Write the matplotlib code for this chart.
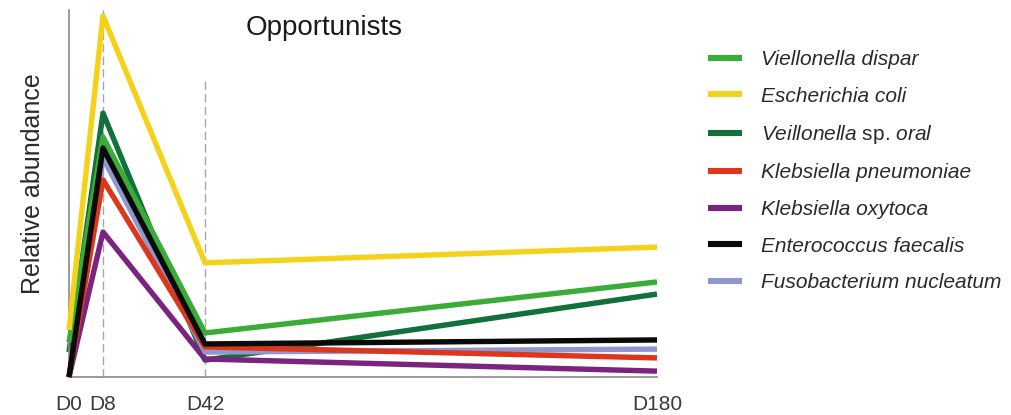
import numpy as np
import matplotlib
matplotlib.use("Agg")
import matplotlib.pyplot as plt
from matplotlib.lines import Line2D

plt.rcParams['font.family'] = ['Liberation Sans', 'DejaVu Sans']
plt.rcParams['mathtext.fontset'] = 'custom'
plt.rcParams['mathtext.it'] = 'Liberation Sans:italic'
plt.rcParams['mathtext.rm'] = 'Liberation Sans'

# Sampling days and their tick labels
days = [0, 8, 42, 180]
day_labels = ["D0", "D8", "D42", "D180"]

# Relative abundance (percent of axis height) per species
species = [
    "Viellonella dispar",
    "Escherichia coli",
    "Veillonella sp. oral",
    "Klebsiella pneumoniae",
    "Klebsiella oxytoca",
    "Enterococcus faecalis",
    "Fusobacterium nucleatum",
]
v_dispar = [9.5, 65.4, 12.0, 25.9]
e_coli = [12.8, 98.4, 31.1, 35.4]
v_oral = [6.8, 71.9, 4.6, 22.6]
k_pneumoniae = [0.0, 53.7, 8.2, 5.2]
k_oxytoca = [0.0, 39.5, 4.9, 1.6]
e_faecalis = [0.0, 62.4, 9.0, 10.1]
f_nucleatum = [0.0, 59.7, 6.8, 7.6]

series = [v_dispar, e_coli, v_oral, k_pneumoniae, k_oxytoca, e_faecalis, f_nucleatum]
colors = ["#3aac38", "#f4d21a", "#12703a", "#dc361d", "#7a237f", "#0a0a0a", "#8e98cf"]
zorders = [3, 4, 2, 7, 5, 8, 6]

# Horizontal placement of the sampling days along the axis (axis pixels)
day_spots = [0, 34, 136, 588]

def fwd(d):
    return np.interp(d, days, day_spots)

def inv(p):
    return np.interp(p, day_spots, days)

W, H = 1012, 415
fig = plt.figure(figsize=(W / 100, H / 100), dpi=100)
ax = fig.add_axes([69 / W, 1 - 377 / H, (657 - 69) / W, (377 - 10) / H])
ax.set_xscale('function', functions=(fwd, inv))
ax.set_xlim(0, 180)
ax.set_ylim(0, 100)

# Guide lines at D8 and D42
ax.axvline(8, ymin=0, ymax=1, color="#a6a6a6", lw=1.0, dashes=(6, 3), zorder=1)
ax.axvline(42, ymin=0, ymax=0.81, color="#a6a6a6", lw=1.0, dashes=(6, 3), zorder=1)

for name, vals, c, z in zip(species, series, colors, zorders):
    ax.plot(days, vals, color=c, lw=3.9, zorder=z, clip_on=False,
            solid_capstyle='butt', solid_joinstyle='round')

for s in ["top", "right"]:
    ax.spines[s].set_visible(False)
for s in ["left", "bottom"]:
    ax.spines[s].set_color("#8a8a8a")
    ax.spines[s].set_linewidth(1.2)

ax.set_yticks([])
ax.set_xticks(days)
ax.set_xticklabels(day_labels, fontsize=15, color="#3a3a3a")
ax.tick_params(axis='x', length=0, pad=13)

fig.text(33 / W, 1 - 184 / H, "Relative abundance", rotation=90,
         ha="center", va="center", fontsize=18, color="#2a2a2a")
fig.text(324 / W, 1 - 28 / H, "Opportunists", ha="center", va="center",
         fontsize=20, color="#1a1a1a")

# Legend
handles = [Line2D([], [], color=c, lw=4.4, solid_capstyle='butt') for c in colors]
labels = list(species)
labels[2] = r"$\mathit{Veillonella}$ sp. $\mathit{oral}$"
leg = fig.legend(handles, labels, loc="upper left",
                 bbox_to_anchor=(708 / W, 1 - 50 / H), frameon=False,
                 prop={"size": 15, "style": "italic"}, handlelength=1.65,
                 handletextpad=0.9, labelspacing=0.84, borderpad=0,
                 borderaxespad=0)
for t in leg.get_texts():
    t.set_color("#2a2a2a")
leg.get_texts()[2].set_fontstyle("normal")

fig.savefig("out.png", dpi=100)
